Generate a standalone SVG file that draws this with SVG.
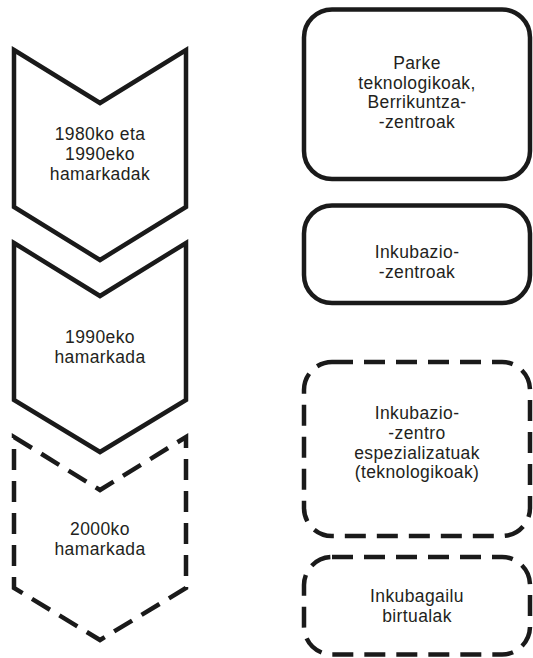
<svg xmlns="http://www.w3.org/2000/svg" width="533" height="658" viewBox="0 0 533 658">
<style>
.s{fill:#fff;stroke:#1a1a1a;stroke-width:4.5;stroke-linejoin:miter}
.d{stroke-dasharray:21 11}
text{font-family:"Liberation Sans",Arial,sans-serif;font-size:17.5px;letter-spacing:0.4px;fill:#231f20;text-anchor:middle}
</style>
<rect width="533" height="658" fill="#fff"/>
<g id="chev1">
<polygon class="s" points="14,50 100,103 186,50 186,207 100,260 14,207"/>
<text x="100" y="140">1980ko eta</text>
<text x="100" y="160">1990eko</text>
<text x="100" y="180">hamarkadak</text>
</g>
<g id="chev2">
<polygon class="s" points="14,243 100,296 186,243 186,400 100,452 14,400"/>
<text x="100" y="343">1990eko</text>
<text x="100" y="363">hamarkada</text>
</g>
<g id="chev3">
<polygon class="s d" points="14,437 100,490 186,437 186,588 100,640 14,588"/>
<text x="100" y="535">2000ko</text>
<text x="100" y="555">hamarkada</text>
</g>
<g id="box1">
<rect class="s" x="304" y="9.5" width="226" height="169.5" rx="28"/>
<text x="417" y="69">Parke</text>
<text x="417" y="88.5">teknologikoak,</text>
<text x="417" y="108">Berrikuntza-</text>
<text x="417" y="127.5">-zentroak</text>
</g>
<g id="box2">
<rect class="s" x="304" y="205.5" width="226" height="97.5" rx="28"/>
<text x="417" y="258">Inkubazio-</text>
<text x="417" y="278">-zentroak</text>
</g>
<g id="box3">
<rect class="s d" x="304" y="362" width="226" height="174" rx="28"/>
<text x="417" y="419">Inkubazio-</text>
<text x="417" y="439">-zentro</text>
<text x="417" y="458.5">espezializatuak</text>
<text x="417" y="478">(teknologikoak)</text>
</g>
<g id="box4">
<rect class="s d" x="304" y="557" width="226" height="97.5" rx="28"/>
<text x="417" y="602">Inkubagailu</text>
<text x="417" y="622">birtualak</text>
</g>
<g id="connectors"/>
</svg>
